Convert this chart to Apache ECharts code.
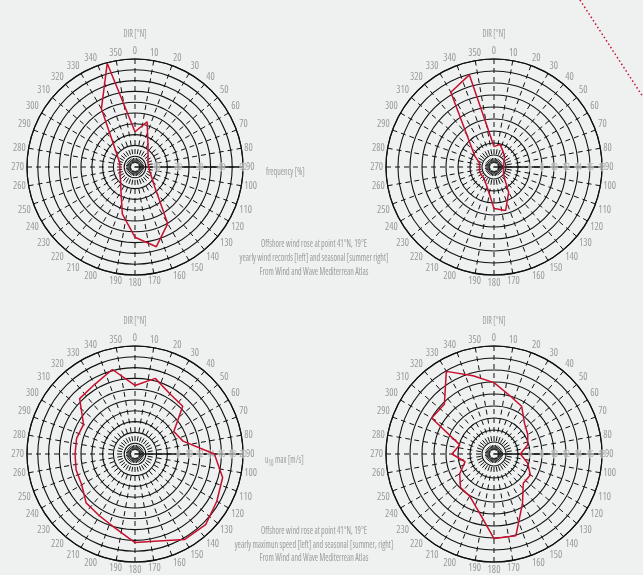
<!DOCTYPE html>
<html>
<head>
<meta charset="utf-8">
<script src="https://cdn.jsdelivr.net/npm/echarts@6/dist/echarts.min.js"></script>
<style>
  html, body { margin: 0; padding: 0; background: #eef1f0; }
  #chart { width: 643px; height: 575px; }
</style>
</head>
<body>
<div id="chart"></div>
<script>
// Wind directions (degrees from north) at which each rose is sampled
const directions = [0, 15, 30, 45, 60, 75, 90, 105, 120, 135, 150, 165,
                    180, 195, 210, 225, 240, 255, 270, 285, 300, 315, 330, 345];

// Frequency [%] per direction: yearly records and summer season
const freqYearly = [16.3, 21.7, 12, 8.5, 7, 6.2, 6.5, 7, 8.8, 12.9, 30.3, 38.2,
                    32.5, 22.6, 13, 9.4, 8, 7.2, 7, 7.3, 9.2, 13.7, 31.1, 49.7];
const freqSummer = [3.4, 3.9, 3.0, 2.5, 1.9, 1.7, 1.6, 1.7, 1.8, 2.4, 4.9, 7.5,
                    6.9, 3.9, 2.9, 2.5, 2.5, 2.5, 2.4, 2.5, 3.7, 5.7, 14.4, 15.9];

// Maximum u10 speed [m/s] per direction: yearly and summer season
const speedYearly = [12.7, 14.5, 12.9, 12.5, 8.3, 9.2, 14.7, 16.8, 17.5, 18.5, 18.3, 16.7,
                     16.4, 14.2, 13.2, 12.8, 11.4, 11.3, 11.1, 11.2, 11.0, 14.5, 14.9, 16.2];
const speedSummer = [11.9, 10.1, 9.2, 7.2, 6.5, 5.8, 4.4, 5.8, 7.0, 6.9, 9.5, 14.1,
                     14.1, 9.9, 8.1, 7.9, 6.6, 5.0, 7.0, 5.9, 12.0, 11.7, 15.9, 13.5];

// Radial scale of each rose: [max, step, smallest labelled value, label step]
const radialScales = [[50, 5, 10, 10], [18, 2, 6, 2], [20, 2, 8, 2], [18, 2, 6, 2]];

// Caption lines
const titleDir = 'DIR [°N]';
const captionTop = ['Offshore wind rose at point 41°N, 19°E',
                    'yearly wind records [left] and seasonal [summer right]',
                    'From Wind and Wave Mediterrean Atlas'];
const captionBottom = ['Offshore wind rose at point 41°N, 19°E',
                       'yearly maximun speed [left] and seasonal [summer, right]',
                       'From Wind and Wave Mediterrean Atlas'];

const BG = '#eef1f0';
const INK = '#111111';
const GREY = '#9a9a9a';
const RED = '#c8102e';
const FAMILY = "'Open Sans'";
const NARROW = 'condensed';          // font-stretch keyword
const TEXT_FONT = NARROW + ' 11px ' + FAMILY;
const SQUEEZE = 0.72;                // extra horizontal squeeze of free text

const centers = [[135, 167], [494, 167], [135, 454], [494, 454]];
const R = 108;

// North-up, clockwise compass: axis value 0 points east, so north is 270
function toAxisAngle(d) { return (d + 270) % 360; }
function rosePoints(values) {
  const pts = directions.map((d, k) => [values[k], toAxisAngle(d)]);
  pts.push(pts[0]);
  return pts;
}

const polar = centers.map(c => ({ center: c, radius: [0, R] }));

const angleAxis = centers.map((c, i) => ({
  polarIndex: i,
  type: 'value',
  min: 0, max: 360, interval: 10,
  startAngle: 0,
  clockwise: true,
  axisLine: { show: true, lineStyle: { color: INK, width: 1.2 } },
  axisTick: { show: false },
  axisLabel: {
    show: true, margin: 3, color: GREY, fontSize: 10,
    fontFamily: FAMILY, fontStyle: NARROW,
    formatter: v => String((v + 90) % 360)
  },
  splitLine: { show: true, lineStyle: { color: INK, width: 1, type: [5, 4] } }
}));

const radiusAxis = radialScales.map((s, i) => ({
  polarIndex: i,
  type: 'value',
  min: 0, max: s[0], interval: s[1],
  axisLine: { show: true, lineStyle: { color: INK, width: 1.6 } },
  axisTick: { show: false },
  axisLabel: {
    show: true, margin: 0, color: '#aaaaaa', fontSize: 9,
    fontFamily: FAMILY, fontStyle: NARROW,
    verticalAlign: 'middle', align: 'center',
    backgroundColor: 'rgba(238,241,240,0.55)', padding: [0, 0],
    formatter: v => (v >= s[2] && v % s[3] === 0) ? String(v) : ''
  },
  splitLine: { show: true, lineStyle: { color: INK, width: 1.1 } },
  z: 3
}));

const seriesValues = [freqYearly, freqSummer, speedYearly, speedSummer];
const series = seriesValues.map((vals, i) => ({
  type: 'line',
  coordinateSystem: 'polar',
  polarIndex: i,
  data: rosePoints(vals),
  symbol: 'none',
  smooth: false,
  lineStyle: { color: RED, width: 1.5 },
  z: 10,
  animation: false
}));

function txt(x, y, text, align) {
  return {
    type: 'text', x: x, y: y, scaleX: SQUEEZE,
    style: { text: text, fill: GREY, font: TEXT_FONT,
             textAlign: align || 'center', textVerticalAlign: 'middle' }
  };
}

const graphic = [];
centers.forEach(c => graphic.push(txt(c[0], c[1] - 133, titleDir)));
graphic.push(txt(266, 172, 'frequency [%]', 'left'));
graphic.push({
  type: 'text', x: 265, y: 460, scaleX: SQUEEZE,
  style: {
    text: '{u|u}{s|10}{u| max [m/s]}',
    rich: {
      u: { fill: GREY, font: TEXT_FONT },
      s: { fill: GREY, font: NARROW + ' 8px ' + FAMILY, padding: [7, 0, 0, 0] }
    },
    textAlign: 'left', textVerticalAlign: 'middle'
  }
});
captionTop.forEach((t, k) => graphic.push(txt(314, 244 + k * 14, t)));
captionBottom.forEach((t, k) => graphic.push(txt(314, 531 + k * 13.5, t)));
graphic.push({
  type: 'line',
  shape: { x1: 580, y1: 0, x2: 643, y2: 97 },
  style: { stroke: RED, lineWidth: 1.5, lineDash: [1.5, 2.5] }
});

const chart = echarts.init(document.getElementById('chart'), null, { renderer: 'canvas' });
chart.setOption({
  backgroundColor: BG,
  animation: false,
  polar: polar,
  angleAxis: angleAxis,
  radiusAxis: radiusAxis,
  series: series,
  graphic: graphic
});
</script>
</body>
</html>
